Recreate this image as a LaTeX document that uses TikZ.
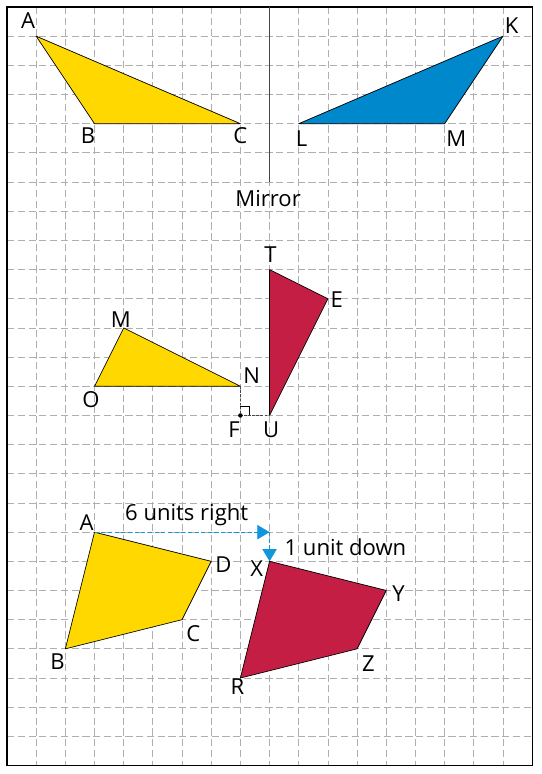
\documentclass[tikz,border=0pt]{standalone}
\usepackage{fontspec}
\setmainfont{Open Sans}
\usetikzlibrary{arrows.meta,positioning,calc}
\definecolor{gold}{RGB}{255,216,0}
\definecolor{azure}{RGB}{0,136,204}
\definecolor{crimson}{RGB}{196,30,69}
\definecolor{gridgray}{RGB}{175,175,175}
\definecolor{arrowblue}{RGB}{16,150,220}
\definecolor{mirrorgray}{RGB}{70,70,70}
\begin{document}
\begin{tikzpicture}[x=1cm,y=-1cm,>={Triangle[length=12pt,width=14pt]},
  every node/.style={font=\fontsize{21.5}{24}\selectfont,inner sep=0pt},
  griddash/.style={gridgray,line width=0.8pt,dash pattern=on 7pt off 3.5pt},
  figpoly/.style={draw=black,line width=0.7pt,line join=round},
  movearrow/.style={arrowblue,line width=0.9pt,dash pattern=on 4pt off 2.5pt}]
\useasboundingbox (-0.24,-0.24) rectangle (18.31,26.29);
% grid
\foreach \i in {1,...,17} \draw[griddash] (\i,0) -- (\i,26);
\foreach \j in {1,...,25} \draw[griddash] (0,\j) -- (18,\j);
\draw[line width=1.1pt] (0,0) rectangle (18,26);
% reflection
\coordinate (mtop) at (9,0);
\coordinate (mbot) at (9,6);
\draw[mirrorgray,line width=1.6pt] (mtop) -- (mbot);
\node (mirror) at (8.95,6.55) {Mirror};
\coordinate (A1) at (1,1); \coordinate (B1) at (3,4); \coordinate (C1) at (8,4);
\coordinate (K1) at (17,1); \coordinate (L1) at (10,4); \coordinate (M1) at (15,4);
\draw[figpoly,fill=gold] (A1) -- (B1) -- (C1) -- cycle;
\draw[figpoly,fill=azure] (K1) -- (L1) -- (M1) -- cycle;
\node (lA1) at (0.72,0.45) {A};
\node (lB1) at (2.78,4.42) {B};
\node (lC1) at (8,4.42) {C};
\node (lK1) at (17.3,0.64) {K};
\node (lL1) at (10.1,4.5) {L};
\node (lM1) at (15.4,4.5) {M};
% rotation
\coordinate (M2) at (4,11); \coordinate (N2) at (8,13); \coordinate (O2) at (3,13);
\coordinate (T2) at (9,9); \coordinate (E2) at (11,10); \coordinate (U2) at (9,14);
\coordinate (F2) at (8,14);
\draw[figpoly,fill=gold] (M2) -- (N2) -- (O2) -- cycle;
\draw[figpoly,fill=crimson] (T2) -- (E2) -- (U2) -- cycle;
\draw[mirrorgray,line width=0.7pt,dash pattern=on 2.5pt off 1.5pt] (N2) -- (F2) -- (U2);
\draw[black,line width=0.7pt] ($(F2)+(0,-0.3)$) -- ++(0.3,0) -- ++(0,0.3);
\fill (F2) circle (2.2pt);
\node (lM2) at (3.9,10.7) {M};
\node (lO2) at (2.88,13.45) {O};
\node (lN2) at (8.39,12.65) {N};
\node (lT2) at (9.03,8.5) {T};
\node (lE2) at (11.3,10.04) {E};
\node (lF2) at (7.78,14.5) {F};
\node (lU2) at (9.05,14.5) {U};
% translation
\coordinate (A3) at (3,18); \coordinate (B3) at (2,22);
\coordinate (C3) at (6,21); \coordinate (D3) at (7,19);
\coordinate (X3) at (9,19); \coordinate (Y3) at (13,20);
\coordinate (Z3) at (12,22); \coordinate (R3) at (8,23);
\coordinate (turn) at (9,18);
\draw[figpoly,fill=gold] (A3) -- (D3) -- (C3) -- (B3) -- cycle;
\draw[figpoly,fill=crimson] (X3) -- (Y3) -- (Z3) -- (R3) -- cycle;
\draw[movearrow,->] (A3) -- (turn);
\draw[movearrow,->] (turn) -- (X3);
\node (right) at (6.16,17.4) {6 units right};
\node (down) at (11.6,18.5) {1 unit down};
\node (lA3) at (2.73,17.68) {A};
\node (lD3) at (7.42,19.13) {D};
\node (lC3) at (6.39,21.47) {C};
\node (lB3) at (1.73,22.44) {B};
\node (lX3) at (8.56,19.24) {X};
\node (lY3) at (13.42,20.1) {Y};
\node (lZ3) at (12.39,22.5) {Z};
\node (lR3) at (7.9,23.28) {R};
\end{tikzpicture}
\end{document}
